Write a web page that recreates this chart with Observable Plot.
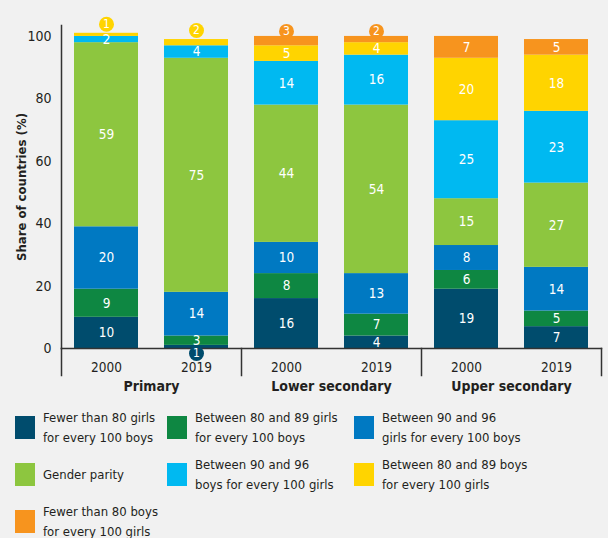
<!DOCTYPE html>
<html><head><meta charset="utf-8">
<script src="https://cdn.jsdelivr.net/npm/d3@7"></script>
<script src="https://cdn.jsdelivr.net/npm/@observablehq/plot@0.6"></script>
<style>
html,body{margin:0;padding:0;background:#f1f1f1;}
#wrap{position:relative;width:608px;height:538px;background:#f1f1f1;font-family:"DejaVu Sans Condensed","DejaVu Sans",sans-serif;color:#231f20;overflow:hidden;}
#chart svg{display:block;}
#legend{position:absolute;left:15px;top:404px;display:grid;grid-template-columns:152px 187px 250px;grid-auto-rows:47px;}
.item{display:flex;align-items:center;}
.sw{width:20px;height:23px;flex:none;margin-right:8px;}
.lab{font-size:13px;line-height:20px;white-space:pre;}
</style></head>
<body><div id="wrap"><div id="chart"></div><div id="legend"></div></div>
<script>
const FONT = '"DejaVu Sans Condensed","DejaVu Sans",sans-serif';
const groups = ["Primary", "Lower secondary", "Upper secondary"];
const years = ["2000", "2019"];
const categories = [
  "Fewer than 80 girls for every 100 boys",
  "Between 80 and 89 girls for every 100 boys",
  "Between 90 and 96 girls for every 100 boys",
  "Gender parity",
  "Between 90 and 96 boys for every 100 girls",
  "Between 80 and 89 boys for every 100 girls",
  "Fewer than 80 boys for every 100 girls"
];
const legendLabels = [
  "Fewer than 80 girls\nfor every 100 boys",
  "Between 80 and 89 girls\nfor every 100 boys",
  "Between 90 and 96\ngirls for every 100 boys",
  "Gender parity",
  "Between 90 and 96\nboys for every 100 girls",
  "Between 80 and 89 boys\nfor every 100 girls",
  "Fewer than 80 boys\nfor every 100 girls"
];
const colors = ["#004c6d", "#0e8742", "#0079c2", "#8dc63f", "#00b9f1", "#ffd400", "#f7941e"];

// values per bar, in category order
const primary2000 = [10, 9, 20, 59, 2, 1, 0];
const primary2019 = [1, 3, 14, 75, 4, 2, 0];
const lower2000 = [16, 8, 10, 44, 14, 5, 3];
const lower2019 = [4, 7, 13, 54, 16, 4, 2];
const upper2000 = [19, 6, 8, 15, 25, 20, 7];
const upper2019 = [7, 5, 14, 27, 23, 18, 5];

// small values shown in circles: [group, year, category index, placement]
const bubbleLabels = [
  ["Primary", "2000", 5, "above"],
  ["Primary", "2019", 5, "above"],
  ["Primary", "2019", 0, "below"],
  ["Lower secondary", "2000", 6, "top"],
  ["Lower secondary", "2019", 6, "top"]
];

const bars = [
  ["Primary", "2000", primary2000],
  ["Primary", "2019", primary2019],
  ["Lower secondary", "2000", lower2000],
  ["Lower secondary", "2019", lower2019],
  ["Upper secondary", "2000", upper2000],
  ["Upper secondary", "2019", upper2019]
];

const rows = [];
for (const [group, year, vals] of bars) {
  let acc = 0;
  vals.forEach((v, i) => {
    const b = bubbleLabels.find(d => d[0] === group && d[1] === year && d[2] === i);
    rows.push({group, year, cat: categories[i], value: v, y1: acc, y2: acc + v, bubble: b ? b[3] : null});
    acc += v;
  });
}

const W = 608, H = 398, mT = 25, mB = 50;
const plotH = H - mT - mB;
const axisColor = "#333";

function bubbleMarks(place, yField, dy) {
  const sel = rows.filter(d => d.bubble === place);
  return [
    Plot.dot(sel, {fx: "group", x: "year", y: yField, r: 7.5, fill: "cat", dy}),
    Plot.text(sel, {fx: "group", x: "year", y: yField, dy, text: "value", fill: "white", fontSize: 12})
  ];
}

const chart = Plot.plot({
  width: W, height: H,
  marginLeft: 60, marginRight: 7, marginTop: mT, marginBottom: mB,
  fx: {domain: groups, padding: 0, axis: null},
  x: {domain: years, paddingInner: 0.2857, paddingOuter: 0.134, axis: null},
  y: {domain: [0, 103.5], axis: null},
  color: {domain: categories, range: colors},
  style: {fontFamily: FONT, fontSize: "13.5px", background: "transparent", color: "#231f20"},
  marks: [
    Plot.barY(rows, {fx: "group", x: "year", y1: "y1", y2: "y2", fill: "cat"}),
    Plot.text(rows.filter(d => !d.bubble && d.value > 0), {
      fx: "group", x: "year", y: d => (d.y1 + d.y2) / 2, text: "value",
      fill: "white", fontSize: 13.5
    }),
    Plot.frame({anchor: "bottom", facet: "super", stroke: axisColor, strokeWidth: 1.5}),
    Plot.frame({anchor: "left", facet: "super", stroke: axisColor, strokeWidth: 1.5}),
    Plot.frame({anchor: "left", insetTop: plotH, insetBottom: -27, stroke: axisColor, strokeWidth: 1.5}),
    Plot.frame({anchor: "right", facet: "super", insetTop: plotH, insetBottom: -27, stroke: axisColor, strokeWidth: 1.5}),
    ...bubbleMarks("above", "y2", -9),
    ...bubbleMarks("top", "y2", -5),
    ...bubbleMarks("below", "y1", 5),
    Plot.axisY({ticks: [0, 20, 40, 60, 80, 100], tickSize: 0, tickPadding: 10, fontSize: 14, label: null}),
    Plot.axisX({tickSize: 0, tickPadding: 14, fontSize: 13.5, label: null}),
    Plot.text(groups, {fx: d => d, text: d => d, frameAnchor: "bottom", lineAnchor: "middle", dy: 38, fontWeight: "bold", fontSize: 14}),
    Plot.text(["Share of countries (%)"], {facet: "super", text: d => d, frameAnchor: "left", textAnchor: "middle", rotate: -90, dx: -40, fontWeight: "bold", fontSize: 13})
  ]
});
document.getElementById("chart").appendChild(chart);

const legend = document.getElementById("legend");
categories.forEach((c, i) => {
  const item = document.createElement("div");
  item.className = "item";
  const sw = document.createElement("div");
  sw.className = "sw";
  sw.style.background = colors[i];
  const lab = document.createElement("div");
  lab.className = "lab";
  lab.textContent = legendLabels[i];
  item.appendChild(sw);
  item.appendChild(lab);
  legend.appendChild(item);
});
</script>
</body></html>
